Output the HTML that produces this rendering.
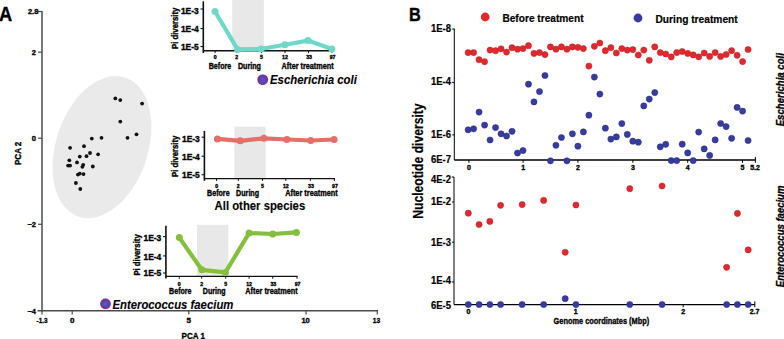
<!DOCTYPE html>
<html><head><meta charset="utf-8"><title>Figure</title>
<style>
html,body{margin:0;padding:0;background:#fff;}
body{width:784px;height:339px;overflow:hidden;}
svg{display:block;font-family:"Liberation Sans", sans-serif;}
text{stroke:#000;stroke-width:0.35px;stroke-linejoin:round;}
text.bg{stroke-width:0.12px;}
text.md{stroke-width:0.2px;}
</style></head>
<body>
<svg width="784" height="339" viewBox="0 0 784 339">
<defs>
<radialGradient id="gEc" cx="0.5" cy="0.5" r="0.5"><stop offset="0" stop-color="#5a52cc"/><stop offset="0.5" stop-color="#5a45b8"/><stop offset="0.75" stop-color="#6a3aa0"/><stop offset="0.9" stop-color="#883088"/><stop offset="1" stop-color="#c070a8"/></radialGradient>
<radialGradient id="gEf" cx="0.5" cy="0.5" r="0.5"><stop offset="0" stop-color="#3e66d6"/><stop offset="0.45" stop-color="#3f56be"/><stop offset="0.68" stop-color="#6a3a98"/><stop offset="0.86" stop-color="#982a7a"/><stop offset="1" stop-color="#d060a0"/></radialGradient>
</defs>
<rect width="784" height="339" fill="#fff"/>
<text x="-0.90" y="20.80" font-size="19.5" font-weight="bold" textLength="13.20" lengthAdjust="spacingAndGlyphs">A</text>
<ellipse cx="101.95" cy="147.05" rx="46" ry="73.4" transform="rotate(18.5 101.95 147.05)" fill="#eaeaea"/>
<line x1="42.00" y1="11.00" x2="42.00" y2="311.40" stroke="#4a4a4a" stroke-width="1.5"/>
<line x1="37.50" y1="310.70" x2="378.00" y2="310.70" stroke="#4a4a4a" stroke-width="1.4"/>
<line x1="38.00" y1="11.50" x2="42.00" y2="11.50" stroke="#4a4a4a" stroke-width="1.2"/>
<line x1="38.00" y1="52.20" x2="42.00" y2="52.20" stroke="#4a4a4a" stroke-width="1.2"/>
<line x1="38.00" y1="138.20" x2="42.00" y2="138.20" stroke="#4a4a4a" stroke-width="1.2"/>
<line x1="38.00" y1="224.30" x2="42.00" y2="224.30" stroke="#4a4a4a" stroke-width="1.2"/>
<line x1="72.20" y1="310.70" x2="72.20" y2="314.40" stroke="#4a4a4a" stroke-width="1.2"/>
<line x1="188.80" y1="310.70" x2="188.80" y2="314.40" stroke="#4a4a4a" stroke-width="1.2"/>
<line x1="306.10" y1="310.70" x2="306.10" y2="314.40" stroke="#4a4a4a" stroke-width="1.2"/>
<line x1="377.30" y1="310.70" x2="377.30" y2="314.40" stroke="#4a4a4a" stroke-width="1.2"/>
<line x1="42.00" y1="310.70" x2="42.00" y2="314.40" stroke="#4a4a4a" stroke-width="1.2"/>
<text x="38.40" y="14.30" font-size="7.5" font-weight="bold" text-anchor="end">2.8</text>
<text x="36.00" y="55.20" font-size="7.5" font-weight="bold" text-anchor="end">2</text>
<text x="36.00" y="141.00" font-size="7.5" font-weight="bold" text-anchor="end">0</text>
<text x="36.00" y="227.20" font-size="7.5" font-weight="bold" text-anchor="end">−2</text>
<text x="36.00" y="313.90" font-size="7.5" font-weight="bold" text-anchor="end">−4</text>
<text x="72.20" y="322.50" font-size="8.0" font-weight="bold" text-anchor="middle">0</text>
<text x="188.80" y="322.50" font-size="8.0" font-weight="bold" text-anchor="middle">5</text>
<text x="301.40" y="322.50" font-size="8.0" font-weight="bold" textLength="8.40" lengthAdjust="spacingAndGlyphs">10</text>
<text x="372.80" y="322.50" font-size="8.0" font-weight="bold" textLength="7.40" lengthAdjust="spacingAndGlyphs">13</text>
<text x="36.60" y="322.50" font-size="8.0" font-weight="bold" textLength="11.00" lengthAdjust="spacingAndGlyphs">-1.3</text>
<text x="181.60" y="338.50" font-size="9.8" font-weight="bold" textLength="23.40" lengthAdjust="spacingAndGlyphs">PCA 1</text>
<text transform="translate(20.80,165.00) rotate(-90)" x="0" y="0" font-size="9.6" font-weight="bold" textLength="23.30" lengthAdjust="spacingAndGlyphs">PCA 2</text>
<circle cx="70.10" cy="147.80" r="1.9" fill="#111"/>
<circle cx="84.00" cy="146.20" r="1.9" fill="#111"/>
<circle cx="90.00" cy="153.00" r="1.9" fill="#111"/>
<circle cx="98.10" cy="154.30" r="1.9" fill="#111"/>
<circle cx="79.80" cy="156.60" r="1.9" fill="#111"/>
<circle cx="86.50" cy="156.20" r="1.9" fill="#111"/>
<circle cx="69.30" cy="160.30" r="1.9" fill="#111"/>
<circle cx="77.00" cy="162.40" r="1.9" fill="#111"/>
<circle cx="68.10" cy="165.60" r="1.9" fill="#111"/>
<circle cx="70.10" cy="165.60" r="1.9" fill="#111"/>
<circle cx="83.20" cy="164.80" r="1.9" fill="#111"/>
<circle cx="82.40" cy="166.80" r="1.9" fill="#111"/>
<circle cx="92.80" cy="166.50" r="1.9" fill="#111"/>
<circle cx="77.90" cy="174.60" r="1.9" fill="#111"/>
<circle cx="79.80" cy="173.60" r="1.9" fill="#111"/>
<circle cx="83.50" cy="174.10" r="1.9" fill="#111"/>
<circle cx="75.90" cy="183.00" r="1.9" fill="#111"/>
<circle cx="80.30" cy="189.00" r="1.9" fill="#111"/>
<circle cx="115.30" cy="98.40" r="1.9" fill="#111"/>
<circle cx="120.30" cy="100.10" r="1.9" fill="#111"/>
<circle cx="142.10" cy="103.60" r="1.9" fill="#111"/>
<circle cx="120.30" cy="121.60" r="1.9" fill="#111"/>
<circle cx="136.50" cy="134.30" r="1.9" fill="#111"/>
<circle cx="127.50" cy="137.80" r="1.9" fill="#111"/>
<circle cx="101.50" cy="137.80" r="1.9" fill="#111"/>
<circle cx="91.80" cy="138.60" r="1.9" fill="#111"/>
<rect x="232.2" y="0" width="31.69999999999999" height="50.8" fill="#e8e8e8"/>
<line x1="203.30" y1="1.30" x2="203.30" y2="53.00" stroke="#111" stroke-width="1.6"/>
<line x1="203.30" y1="50.80" x2="332.60" y2="50.80" stroke="#111" stroke-width="1.4"/>
<line x1="200.50" y1="9.00" x2="203.30" y2="9.00" stroke="#111" stroke-width="1.1"/>
<line x1="200.50" y1="28.50" x2="203.30" y2="28.50" stroke="#111" stroke-width="1.1"/>
<line x1="200.50" y1="46.50" x2="203.30" y2="46.50" stroke="#111" stroke-width="1.1"/>
<line x1="215.10" y1="50.80" x2="215.10" y2="53.10" stroke="#111" stroke-width="1.0"/>
<line x1="236.70" y1="50.80" x2="236.70" y2="53.10" stroke="#111" stroke-width="1.0"/>
<line x1="261.50" y1="50.80" x2="261.50" y2="53.10" stroke="#111" stroke-width="1.0"/>
<line x1="285.00" y1="50.80" x2="285.00" y2="53.10" stroke="#111" stroke-width="1.0"/>
<line x1="308.50" y1="50.80" x2="308.50" y2="53.10" stroke="#111" stroke-width="1.0"/>
<line x1="332.00" y1="50.80" x2="332.00" y2="53.10" stroke="#111" stroke-width="1.0"/>
<text x="198.70" y="14.30" font-size="8.3" font-weight="bold" text-anchor="end" textLength="17.80" lengthAdjust="spacingAndGlyphs">1E-3</text>
<text x="198.70" y="31.60" font-size="8.3" font-weight="bold" text-anchor="end" textLength="17.80" lengthAdjust="spacingAndGlyphs">1E-4</text>
<text x="198.70" y="49.50" font-size="8.3" font-weight="bold" text-anchor="end" textLength="17.80" lengthAdjust="spacingAndGlyphs">1E-5</text>
<text transform="translate(177.90,49.00) rotate(-90)" x="0" y="0" font-size="8.5" font-weight="bold" textLength="41.30" lengthAdjust="spacingAndGlyphs">Pi diversity</text>
<text x="215.10" y="59.20" font-size="5.2" font-weight="bold" text-anchor="middle">0</text>
<text x="236.70" y="59.20" font-size="5.2" font-weight="bold" text-anchor="middle">2</text>
<text x="261.50" y="59.20" font-size="5.2" font-weight="bold" text-anchor="middle">5</text>
<text x="285.00" y="59.20" font-size="5.2" font-weight="bold" text-anchor="middle">12</text>
<text x="309.10" y="59.20" font-size="5.2" font-weight="bold" text-anchor="middle">33</text>
<text x="332.60" y="59.20" font-size="5.2" font-weight="bold" text-anchor="middle">97</text>
<path d="M215.00,11.50 L237.60,49.40 L261.00,49.00 L284.80,44.70 L308.00,40.60 L331.90,48.90" fill="none" stroke="#70d8c8" stroke-width="4.2" stroke-linejoin="round"/>
<circle cx="215.00" cy="11.50" r="3.5" fill="#70d8c8"/>
<circle cx="237.60" cy="49.40" r="3.5" fill="#70d8c8"/>
<circle cx="261.00" cy="49.00" r="3.5" fill="#70d8c8"/>
<circle cx="284.80" cy="44.70" r="3.5" fill="#70d8c8"/>
<circle cx="308.00" cy="40.60" r="3.5" fill="#70d8c8"/>
<circle cx="331.90" cy="48.90" r="3.5" fill="#70d8c8"/>
<text x="208.70" y="68.90" font-size="8.5" font-weight="bold" textLength="22.50" lengthAdjust="spacingAndGlyphs">Before</text>
<text x="237.90" y="68.90" font-size="8.5" font-weight="bold" textLength="23.10" lengthAdjust="spacingAndGlyphs">During</text>
<text x="281.60" y="68.90" font-size="8.5" font-weight="bold" textLength="52.00" lengthAdjust="spacingAndGlyphs">After treatment</text>
<circle cx="262.70" cy="79.70" r="5.5" fill="url(#gEc)"/>
<text x="270.00" y="83.80" font-size="13.4" font-weight="bold" font-style="italic" textLength="86.80" lengthAdjust="spacingAndGlyphs" class="bg">Escherichia coli</text>
<rect x="234.3" y="126.7" width="31.399999999999977" height="51.89999999999999" fill="#e8e8e8"/>
<line x1="204.40" y1="130.90" x2="204.40" y2="180.80" stroke="#111" stroke-width="1.6"/>
<line x1="204.40" y1="178.60" x2="335.00" y2="178.60" stroke="#111" stroke-width="1.4"/>
<line x1="201.60" y1="137.20" x2="204.40" y2="137.20" stroke="#111" stroke-width="1.1"/>
<line x1="201.60" y1="156.20" x2="204.40" y2="156.20" stroke="#111" stroke-width="1.1"/>
<line x1="201.60" y1="174.70" x2="204.40" y2="174.70" stroke="#111" stroke-width="1.1"/>
<line x1="216.60" y1="178.60" x2="216.60" y2="180.90" stroke="#111" stroke-width="1.0"/>
<line x1="238.30" y1="178.60" x2="238.30" y2="180.90" stroke="#111" stroke-width="1.0"/>
<line x1="262.50" y1="178.60" x2="262.50" y2="180.90" stroke="#111" stroke-width="1.0"/>
<line x1="285.80" y1="178.60" x2="285.80" y2="180.90" stroke="#111" stroke-width="1.0"/>
<line x1="310.30" y1="178.60" x2="310.30" y2="180.90" stroke="#111" stroke-width="1.0"/>
<line x1="334.40" y1="178.60" x2="334.40" y2="180.90" stroke="#111" stroke-width="1.0"/>
<text x="199.80" y="142.20" font-size="8.3" font-weight="bold" text-anchor="end" textLength="17.80" lengthAdjust="spacingAndGlyphs">1E-3</text>
<text x="199.80" y="160.00" font-size="8.3" font-weight="bold" text-anchor="end" textLength="17.80" lengthAdjust="spacingAndGlyphs">1E-4</text>
<text x="199.80" y="178.20" font-size="8.3" font-weight="bold" text-anchor="end" textLength="17.80" lengthAdjust="spacingAndGlyphs">1E-5</text>
<text transform="translate(178.10,177.00) rotate(-90)" x="0" y="0" font-size="8.5" font-weight="bold" textLength="41.30" lengthAdjust="spacingAndGlyphs">Pi diversity</text>
<text x="216.60" y="187.70" font-size="5.2" font-weight="bold" text-anchor="middle">0</text>
<text x="238.30" y="187.70" font-size="5.2" font-weight="bold" text-anchor="middle">2</text>
<text x="262.50" y="187.70" font-size="5.2" font-weight="bold" text-anchor="middle">5</text>
<text x="285.80" y="187.70" font-size="5.2" font-weight="bold" text-anchor="middle">12</text>
<text x="310.90" y="187.70" font-size="5.2" font-weight="bold" text-anchor="middle">33</text>
<text x="335.00" y="187.70" font-size="5.2" font-weight="bold" text-anchor="middle">97</text>
<path d="M217.40,138.90 L240.20,140.80 L263.90,138.30 L286.90,139.50 L310.70,140.50 L334.10,139.50" fill="none" stroke="#e56e68" stroke-width="4.2" stroke-linejoin="round"/>
<circle cx="217.40" cy="138.90" r="3.5" fill="#e56e68"/>
<circle cx="240.20" cy="140.80" r="3.5" fill="#e56e68"/>
<circle cx="263.90" cy="138.30" r="3.5" fill="#e56e68"/>
<circle cx="286.90" cy="139.50" r="3.5" fill="#e56e68"/>
<circle cx="310.70" cy="140.50" r="3.5" fill="#e56e68"/>
<circle cx="334.10" cy="139.50" r="3.5" fill="#e56e68"/>
<text x="207.10" y="196.10" font-size="8.5" font-weight="bold" textLength="22.50" lengthAdjust="spacingAndGlyphs">Before</text>
<text x="236.10" y="196.10" font-size="8.5" font-weight="bold" textLength="23.00" lengthAdjust="spacingAndGlyphs">During</text>
<text x="285.20" y="196.10" font-size="8.5" font-weight="bold" textLength="52.60" lengthAdjust="spacingAndGlyphs">After treatment</text>
<text x="214.60" y="210.20" font-size="12.2" font-weight="bold" textLength="90.60" lengthAdjust="spacingAndGlyphs" class="bg">All other species</text>
<rect x="197.0" y="224.9" width="31.30000000000001" height="51.49999999999997" fill="#e8e8e8"/>
<line x1="165.90" y1="225.80" x2="165.90" y2="278.60" stroke="#111" stroke-width="1.6"/>
<line x1="165.90" y1="276.40" x2="297.60" y2="276.40" stroke="#111" stroke-width="1.4"/>
<line x1="163.10" y1="236.60" x2="165.90" y2="236.60" stroke="#111" stroke-width="1.1"/>
<line x1="163.10" y1="255.90" x2="165.90" y2="255.90" stroke="#111" stroke-width="1.1"/>
<line x1="163.10" y1="273.00" x2="165.90" y2="273.00" stroke="#111" stroke-width="1.1"/>
<line x1="179.30" y1="276.40" x2="179.30" y2="278.70" stroke="#111" stroke-width="1.0"/>
<line x1="201.70" y1="276.40" x2="201.70" y2="278.70" stroke="#111" stroke-width="1.0"/>
<line x1="225.70" y1="276.40" x2="225.70" y2="278.70" stroke="#111" stroke-width="1.0"/>
<line x1="249.10" y1="276.40" x2="249.10" y2="278.70" stroke="#111" stroke-width="1.0"/>
<line x1="272.70" y1="276.40" x2="272.70" y2="278.70" stroke="#111" stroke-width="1.0"/>
<line x1="297.00" y1="276.40" x2="297.00" y2="278.70" stroke="#111" stroke-width="1.0"/>
<text x="161.30" y="241.30" font-size="8.3" font-weight="bold" text-anchor="end" textLength="17.80" lengthAdjust="spacingAndGlyphs">1E-3</text>
<text x="161.30" y="260.00" font-size="8.3" font-weight="bold" text-anchor="end" textLength="17.80" lengthAdjust="spacingAndGlyphs">1E-4</text>
<text x="161.30" y="276.00" font-size="8.3" font-weight="bold" text-anchor="end" textLength="17.80" lengthAdjust="spacingAndGlyphs">1E-5</text>
<text transform="translate(140.20,275.60) rotate(-90)" x="0" y="0" font-size="8.5" font-weight="bold" textLength="41.30" lengthAdjust="spacingAndGlyphs">Pi diversity</text>
<text x="179.30" y="285.80" font-size="5.2" font-weight="bold" text-anchor="middle">0</text>
<text x="201.70" y="285.80" font-size="5.2" font-weight="bold" text-anchor="middle">2</text>
<text x="225.70" y="285.80" font-size="5.2" font-weight="bold" text-anchor="middle">5</text>
<text x="249.10" y="285.80" font-size="5.2" font-weight="bold" text-anchor="middle">12</text>
<text x="273.30" y="285.80" font-size="5.2" font-weight="bold" text-anchor="middle">33</text>
<text x="297.60" y="285.80" font-size="5.2" font-weight="bold" text-anchor="middle">97</text>
<path d="M179.30,237.60 L201.80,269.80 L225.40,272.40 L249.10,233.00 L272.70,234.00 L296.40,232.40" fill="none" stroke="#84bf3d" stroke-width="4.2" stroke-linejoin="round"/>
<circle cx="179.30" cy="237.60" r="3.5" fill="#84bf3d"/>
<circle cx="201.80" cy="269.80" r="3.5" fill="#84bf3d"/>
<circle cx="225.40" cy="272.40" r="3.5" fill="#84bf3d"/>
<circle cx="249.10" cy="233.00" r="3.5" fill="#84bf3d"/>
<circle cx="272.70" cy="234.00" r="3.5" fill="#84bf3d"/>
<circle cx="296.40" cy="232.40" r="3.5" fill="#84bf3d"/>
<text x="169.10" y="294.00" font-size="8.5" font-weight="bold" textLength="22.40" lengthAdjust="spacingAndGlyphs">Before</text>
<text x="202.80" y="294.00" font-size="8.5" font-weight="bold" textLength="22.80" lengthAdjust="spacingAndGlyphs">During</text>
<text x="245.30" y="294.00" font-size="8.5" font-weight="bold" textLength="52.40" lengthAdjust="spacingAndGlyphs">After treatment</text>
<circle cx="105.50" cy="303.80" r="5.5" fill="url(#gEf)"/>
<text x="112.40" y="309.20" font-size="13.3" font-weight="bold" font-style="italic" textLength="121.00" lengthAdjust="spacingAndGlyphs" class="bg">Enterococcus faecium</text>
<text x="409.00" y="21.20" font-size="18" font-weight="bold" textLength="11.80" lengthAdjust="spacingAndGlyphs">B</text>
<circle cx="485.20" cy="17.00" r="4.4" fill="#e2282d"/>
<text x="502.40" y="21.50" font-size="11.3" font-weight="bold" textLength="81.20" lengthAdjust="spacingAndGlyphs" class="md">Before treatment</text>
<circle cx="638.00" cy="18.00" r="4.4" fill="#373ca0"/>
<text x="655.50" y="22.50" font-size="11.3" font-weight="bold" textLength="82.20" lengthAdjust="spacingAndGlyphs" class="md">During treatment</text>
<line x1="454.30" y1="28.50" x2="454.30" y2="160.00" stroke="#000" stroke-width="1.0"/>
<line x1="454.30" y1="160.00" x2="755.60" y2="160.00" stroke="#000" stroke-width="1.4"/>
<line x1="452.20" y1="29.00" x2="454.30" y2="29.00" stroke="#000" stroke-width="1.0"/>
<line x1="452.20" y1="82.40" x2="454.30" y2="82.40" stroke="#000" stroke-width="1.0"/>
<line x1="452.20" y1="134.90" x2="454.30" y2="134.90" stroke="#000" stroke-width="1.0"/>
<text x="451.00" y="31.62" font-size="10.2" font-weight="bold" text-anchor="end" textLength="20.00" lengthAdjust="spacingAndGlyphs" class="md">1E-8</text>
<text x="451.00" y="84.77" font-size="10.2" font-weight="bold" text-anchor="end" textLength="20.00" lengthAdjust="spacingAndGlyphs" class="md">1E-4</text>
<text x="451.00" y="138.12" font-size="10.2" font-weight="bold" text-anchor="end" textLength="20.00" lengthAdjust="spacingAndGlyphs" class="md">1E-6</text>
<text x="451.00" y="163.22" font-size="10.2" font-weight="bold" text-anchor="end" textLength="20.00" lengthAdjust="spacingAndGlyphs" class="md">6E-7</text>
<line x1="468.90" y1="160.00" x2="468.90" y2="162.80" stroke="#000" stroke-width="1.0"/>
<text x="468.90" y="170.00" font-size="7" font-weight="bold" text-anchor="middle">0</text>
<line x1="523.10" y1="160.00" x2="523.10" y2="162.80" stroke="#000" stroke-width="1.0"/>
<text x="523.10" y="170.00" font-size="7" font-weight="bold" text-anchor="middle">1</text>
<line x1="577.90" y1="160.00" x2="577.90" y2="162.80" stroke="#000" stroke-width="1.0"/>
<text x="577.90" y="170.00" font-size="7" font-weight="bold" text-anchor="middle">2</text>
<line x1="632.90" y1="160.00" x2="632.90" y2="162.80" stroke="#000" stroke-width="1.0"/>
<text x="632.90" y="170.00" font-size="7" font-weight="bold" text-anchor="middle">3</text>
<line x1="687.70" y1="160.00" x2="687.70" y2="162.80" stroke="#000" stroke-width="1.0"/>
<text x="687.70" y="170.00" font-size="7" font-weight="bold" text-anchor="middle">4</text>
<line x1="742.50" y1="160.00" x2="742.50" y2="162.80" stroke="#000" stroke-width="1.0"/>
<text x="742.50" y="170.00" font-size="7" font-weight="bold" text-anchor="middle">5</text>
<line x1="755.40" y1="157.00" x2="755.40" y2="162.80" stroke="#000" stroke-width="1.0"/>
<text x="755.00" y="170.00" font-size="7" font-weight="bold" text-anchor="middle">5.2</text>
<line x1="454.00" y1="177.00" x2="454.00" y2="304.60" stroke="#000" stroke-width="1.0"/>
<line x1="451.80" y1="177.00" x2="454.00" y2="177.00" stroke="#000" stroke-width="1.0"/>
<line x1="454.00" y1="304.60" x2="755.00" y2="304.60" stroke="#000" stroke-width="1.4"/>
<line x1="452.00" y1="202.00" x2="454.00" y2="202.00" stroke="#000" stroke-width="1.0"/>
<line x1="452.00" y1="242.20" x2="454.00" y2="242.20" stroke="#000" stroke-width="1.0"/>
<line x1="452.00" y1="282.00" x2="454.00" y2="282.00" stroke="#000" stroke-width="1.0"/>
<text x="451.00" y="182.52" font-size="10.2" font-weight="bold" text-anchor="end" textLength="20.00" lengthAdjust="spacingAndGlyphs" class="md">4E-2</text>
<text x="451.00" y="205.12" font-size="10.2" font-weight="bold" text-anchor="end" textLength="20.00" lengthAdjust="spacingAndGlyphs" class="md">1E-2</text>
<text x="451.00" y="245.72" font-size="10.2" font-weight="bold" text-anchor="end" textLength="20.00" lengthAdjust="spacingAndGlyphs" class="md">1E-3</text>
<text x="451.00" y="284.32" font-size="10.2" font-weight="bold" text-anchor="end" textLength="20.00" lengthAdjust="spacingAndGlyphs" class="md">1E-4</text>
<text x="451.00" y="308.62" font-size="10.2" font-weight="bold" text-anchor="end" textLength="20.00" lengthAdjust="spacingAndGlyphs" class="md">6E-5</text>
<line x1="468.40" y1="304.30" x2="468.40" y2="307.20" stroke="#000" stroke-width="1.0"/>
<text x="468.40" y="314.20" font-size="7" font-weight="bold" text-anchor="middle">0</text>
<line x1="575.80" y1="304.30" x2="575.80" y2="307.20" stroke="#000" stroke-width="1.0"/>
<text x="575.80" y="314.20" font-size="7" font-weight="bold" text-anchor="middle">1</text>
<line x1="683.20" y1="304.30" x2="683.20" y2="307.20" stroke="#000" stroke-width="1.0"/>
<text x="683.20" y="314.20" font-size="7" font-weight="bold" text-anchor="middle">2</text>
<line x1="754.80" y1="301.30" x2="754.80" y2="307.20" stroke="#000" stroke-width="1.0"/>
<text x="754.50" y="314.20" font-size="7" font-weight="bold" text-anchor="middle">2.7</text>
<text x="553.60" y="324.00" font-size="9" font-weight="bold" textLength="95.60" lengthAdjust="spacingAndGlyphs">Genome coordinates (Mbp)</text>
<text class="md" transform="translate(422.60,218.80) rotate(-90)" x="0" y="0" font-size="13.9" font-weight="bold" textLength="115.40" lengthAdjust="spacingAndGlyphs">Nucleotide diversity</text>
<text transform="translate(784.30,126.30) rotate(-90)" x="0" y="0" font-size="10.5" font-weight="bold" font-style="italic" textLength="73.20" lengthAdjust="spacingAndGlyphs">Escherichia coli</text>
<text transform="translate(784.30,287.20) rotate(-90)" x="0" y="0" font-size="10.5" font-weight="bold" font-style="italic" textLength="101.60" lengthAdjust="spacingAndGlyphs">Enterococcus faecium</text>
<g stroke="#b3262a" stroke-width="0.5">
<circle cx="468.10" cy="52.60" r="3.1" fill="#e2282d"/>
<circle cx="473.59" cy="52.60" r="3.1" fill="#e2282d"/>
<circle cx="479.08" cy="59.70" r="3.1" fill="#e2282d"/>
<circle cx="484.57" cy="61.70" r="3.1" fill="#e2282d"/>
<circle cx="490.06" cy="50.10" r="3.1" fill="#e2282d"/>
<circle cx="495.55" cy="50.70" r="3.1" fill="#e2282d"/>
<circle cx="501.04" cy="48.80" r="3.1" fill="#e2282d"/>
<circle cx="506.53" cy="52.10" r="3.1" fill="#e2282d"/>
<circle cx="512.02" cy="47.70" r="3.1" fill="#e2282d"/>
<circle cx="517.51" cy="49.20" r="3.1" fill="#e2282d"/>
<circle cx="523.00" cy="48.60" r="3.1" fill="#e2282d"/>
<circle cx="528.49" cy="45.70" r="3.1" fill="#e2282d"/>
<circle cx="533.98" cy="53.40" r="3.1" fill="#e2282d"/>
<circle cx="539.47" cy="52.60" r="3.1" fill="#e2282d"/>
<circle cx="544.96" cy="54.60" r="3.1" fill="#e2282d"/>
<circle cx="550.45" cy="46.90" r="3.1" fill="#e2282d"/>
<circle cx="555.94" cy="49.20" r="3.1" fill="#e2282d"/>
<circle cx="561.43" cy="46.90" r="3.1" fill="#e2282d"/>
<circle cx="566.92" cy="49.20" r="3.1" fill="#e2282d"/>
<circle cx="572.41" cy="46.90" r="3.1" fill="#e2282d"/>
<circle cx="577.90" cy="47.30" r="3.1" fill="#e2282d"/>
<circle cx="583.39" cy="48.60" r="3.1" fill="#e2282d"/>
<circle cx="588.88" cy="66.10" r="3.1" fill="#e2282d"/>
<circle cx="594.37" cy="46.30" r="3.1" fill="#e2282d"/>
<circle cx="599.86" cy="43.00" r="3.1" fill="#e2282d"/>
<circle cx="605.35" cy="50.70" r="3.1" fill="#e2282d"/>
<circle cx="610.84" cy="47.70" r="3.1" fill="#e2282d"/>
<circle cx="616.33" cy="53.00" r="3.1" fill="#e2282d"/>
<circle cx="621.82" cy="48.60" r="3.1" fill="#e2282d"/>
<circle cx="627.31" cy="50.10" r="3.1" fill="#e2282d"/>
<circle cx="632.80" cy="49.60" r="3.1" fill="#e2282d"/>
<circle cx="638.29" cy="55.00" r="3.1" fill="#e2282d"/>
<circle cx="643.78" cy="50.10" r="3.1" fill="#e2282d"/>
<circle cx="649.27" cy="60.30" r="3.1" fill="#e2282d"/>
<circle cx="654.76" cy="46.90" r="3.1" fill="#e2282d"/>
<circle cx="660.25" cy="52.60" r="3.1" fill="#e2282d"/>
<circle cx="665.74" cy="54.00" r="3.1" fill="#e2282d"/>
<circle cx="671.23" cy="56.90" r="3.1" fill="#e2282d"/>
<circle cx="676.72" cy="52.60" r="3.1" fill="#e2282d"/>
<circle cx="682.21" cy="51.50" r="3.1" fill="#e2282d"/>
<circle cx="687.70" cy="53.40" r="3.1" fill="#e2282d"/>
<circle cx="693.19" cy="54.90" r="3.1" fill="#e2282d"/>
<circle cx="698.68" cy="56.80" r="3.1" fill="#e2282d"/>
<circle cx="704.17" cy="53.00" r="3.1" fill="#e2282d"/>
<circle cx="709.66" cy="56.40" r="3.1" fill="#e2282d"/>
<circle cx="715.15" cy="52.60" r="3.1" fill="#e2282d"/>
<circle cx="720.64" cy="56.40" r="3.1" fill="#e2282d"/>
<circle cx="726.13" cy="54.50" r="3.1" fill="#e2282d"/>
<circle cx="731.62" cy="50.70" r="3.1" fill="#e2282d"/>
<circle cx="737.11" cy="55.30" r="3.1" fill="#e2282d"/>
<circle cx="742.60" cy="61.60" r="3.1" fill="#e2282d"/>
<circle cx="748.09" cy="49.50" r="3.1" fill="#e2282d"/>
</g>
<g stroke="#282a78" stroke-width="0.5">
<circle cx="468.10" cy="129.80" r="3.1" fill="#373ca0"/>
<circle cx="473.59" cy="128.80" r="3.1" fill="#373ca0"/>
<circle cx="479.08" cy="112.10" r="3.1" fill="#373ca0"/>
<circle cx="484.57" cy="125.10" r="3.1" fill="#373ca0"/>
<circle cx="490.06" cy="140.00" r="3.1" fill="#373ca0"/>
<circle cx="495.55" cy="127.60" r="3.1" fill="#373ca0"/>
<circle cx="501.04" cy="133.80" r="3.1" fill="#373ca0"/>
<circle cx="506.53" cy="136.00" r="3.1" fill="#373ca0"/>
<circle cx="512.02" cy="131.30" r="3.1" fill="#373ca0"/>
<circle cx="517.51" cy="153.00" r="3.1" fill="#373ca0"/>
<circle cx="523.00" cy="150.50" r="3.1" fill="#373ca0"/>
<circle cx="528.49" cy="84.20" r="3.1" fill="#373ca0"/>
<circle cx="533.98" cy="101.90" r="3.1" fill="#373ca0"/>
<circle cx="539.47" cy="91.60" r="3.1" fill="#373ca0"/>
<circle cx="544.96" cy="75.50" r="3.1" fill="#373ca0"/>
<circle cx="550.45" cy="160.80" r="3.1" fill="#373ca0"/>
<circle cx="555.94" cy="145.30" r="3.1" fill="#373ca0"/>
<circle cx="561.43" cy="137.50" r="3.1" fill="#373ca0"/>
<circle cx="566.92" cy="160.80" r="3.1" fill="#373ca0"/>
<circle cx="572.41" cy="133.80" r="3.1" fill="#373ca0"/>
<circle cx="577.90" cy="146.20" r="3.1" fill="#373ca0"/>
<circle cx="583.39" cy="131.90" r="3.1" fill="#373ca0"/>
<circle cx="588.88" cy="115.20" r="3.1" fill="#373ca0"/>
<circle cx="594.37" cy="77.10" r="3.1" fill="#373ca0"/>
<circle cx="599.86" cy="94.10" r="3.1" fill="#373ca0"/>
<circle cx="605.35" cy="128.20" r="3.1" fill="#373ca0"/>
<circle cx="610.84" cy="139.10" r="3.1" fill="#373ca0"/>
<circle cx="616.33" cy="136.90" r="3.1" fill="#373ca0"/>
<circle cx="621.82" cy="123.60" r="3.1" fill="#373ca0"/>
<circle cx="627.31" cy="134.40" r="3.1" fill="#373ca0"/>
<circle cx="632.80" cy="141.20" r="3.1" fill="#373ca0"/>
<circle cx="638.29" cy="142.20" r="3.1" fill="#373ca0"/>
<circle cx="643.78" cy="105.90" r="3.1" fill="#373ca0"/>
<circle cx="649.27" cy="99.10" r="3.1" fill="#373ca0"/>
<circle cx="654.76" cy="92.60" r="3.1" fill="#373ca0"/>
<circle cx="660.25" cy="146.80" r="3.1" fill="#373ca0"/>
<circle cx="665.74" cy="144.30" r="3.1" fill="#373ca0"/>
<circle cx="671.23" cy="160.60" r="3.1" fill="#373ca0"/>
<circle cx="676.72" cy="160.60" r="3.1" fill="#373ca0"/>
<circle cx="682.21" cy="144.20" r="3.1" fill="#373ca0"/>
<circle cx="687.70" cy="152.90" r="3.1" fill="#373ca0"/>
<circle cx="693.19" cy="160.60" r="3.1" fill="#373ca0"/>
<circle cx="698.68" cy="132.10" r="3.1" fill="#373ca0"/>
<circle cx="704.17" cy="148.90" r="3.1" fill="#373ca0"/>
<circle cx="709.66" cy="155.40" r="3.1" fill="#373ca0"/>
<circle cx="715.15" cy="139.90" r="3.1" fill="#373ca0"/>
<circle cx="720.64" cy="123.50" r="3.1" fill="#373ca0"/>
<circle cx="726.13" cy="126.60" r="3.1" fill="#373ca0"/>
<circle cx="731.62" cy="138.30" r="3.1" fill="#373ca0"/>
<circle cx="737.11" cy="107.40" r="3.1" fill="#373ca0"/>
<circle cx="742.60" cy="111.10" r="3.1" fill="#373ca0"/>
<circle cx="748.09" cy="140.50" r="3.1" fill="#373ca0"/>
</g>
<g stroke="#b3262a" stroke-width="0.5">
<circle cx="468.30" cy="213.20" r="3.1" fill="#e2282d"/>
<circle cx="479.06" cy="224.50" r="3.1" fill="#e2282d"/>
<circle cx="489.83" cy="221.40" r="3.1" fill="#e2282d"/>
<circle cx="500.60" cy="205.30" r="3.1" fill="#e2282d"/>
<circle cx="522.12" cy="204.60" r="3.1" fill="#e2282d"/>
<circle cx="543.65" cy="200.40" r="3.1" fill="#e2282d"/>
<circle cx="565.19" cy="252.30" r="3.1" fill="#e2282d"/>
<circle cx="575.95" cy="205.00" r="3.1" fill="#e2282d"/>
<circle cx="629.78" cy="188.70" r="3.1" fill="#e2282d"/>
<circle cx="662.07" cy="186.00" r="3.1" fill="#e2282d"/>
<circle cx="726.66" cy="267.30" r="3.1" fill="#e2282d"/>
<circle cx="737.42" cy="213.40" r="3.1" fill="#e2282d"/>
<circle cx="748.19" cy="249.90" r="3.1" fill="#e2282d"/>
</g>
<g stroke="#282a78" stroke-width="0.5">
<circle cx="468.30" cy="304.50" r="3.1" fill="#373ca0"/>
<circle cx="479.06" cy="304.50" r="3.1" fill="#373ca0"/>
<circle cx="489.83" cy="304.50" r="3.1" fill="#373ca0"/>
<circle cx="500.60" cy="304.50" r="3.1" fill="#373ca0"/>
<circle cx="522.12" cy="304.50" r="3.1" fill="#373ca0"/>
<circle cx="543.65" cy="304.50" r="3.1" fill="#373ca0"/>
<circle cx="565.19" cy="298.70" r="3.1" fill="#373ca0"/>
<circle cx="575.95" cy="304.50" r="3.1" fill="#373ca0"/>
<circle cx="629.78" cy="304.50" r="3.1" fill="#373ca0"/>
<circle cx="662.07" cy="304.50" r="3.1" fill="#373ca0"/>
<circle cx="726.66" cy="304.50" r="3.1" fill="#373ca0"/>
<circle cx="737.42" cy="304.50" r="3.1" fill="#373ca0"/>
<circle cx="748.19" cy="304.50" r="3.1" fill="#373ca0"/>
</g>
</svg>
</body></html>
